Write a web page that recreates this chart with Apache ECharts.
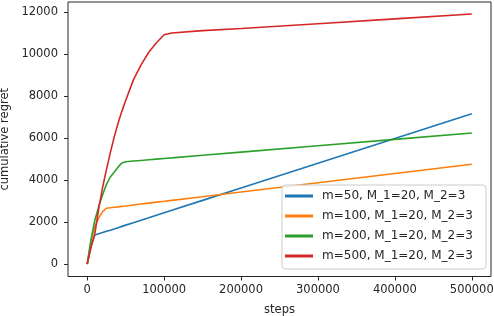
<!DOCTYPE html>
<html>
<head>
<meta charset="utf-8">
<script src="https://cdn.jsdelivr.net/npm/echarts@6/dist/echarts.min.js"></script>
<style>html,body{margin:0;padding:0;background:#fff}#c{width:494px;height:316px}</style>
</head>
<body>
<div id="c"></div>
<script>
const steps = [0, 5000, 10000, 15000, 20000, 25000, 30000, 35000, 40000, 45000, 50000, 60000, 70000, 80000, 90000, 100000, 110000, 150000, 200000, 300000, 400000, 500000];
const regretM50  = [0, 900, 1380, 1440, 1500, 1560, 1615, 1675, 1735, 1795, 1855, 1970, 2090, 2205, 2325, 2445, 2560, 3035, 3625, 4805, 5990, 7170];
const regretM100 = [0, 1100, 1800, 2200, 2500, 2660, 2680, 2705, 2725, 2750, 2770, 2815, 2860, 2905, 2950, 2990, 3035, 3210, 3435, 3875, 4320, 4760];
const regretM200 = [0, 1200, 2100, 2750, 3300, 3800, 4150, 4380, 4620, 4820, 4880, 4910, 4940, 4970, 5000, 5030, 5060, 5185, 5335, 5640, 5945, 6250];
const regretM500 = [0, 800, 1460, 2650, 3660, 4500, 5300, 6050, 6700, 7280, 7800, 8780, 9500, 10100, 10550, 10930, 11020, 11130, 11230, 11460, 11690, 11920];
const seriesNames = ['m=50, M_1=20, M_2=3', 'm=100, M_1=20, M_2=3', 'm=200, M_1=20, M_2=3', 'm=500, M_1=20, M_2=3'];
const xTicks = [0, 100000, 200000, 300000, 400000, 500000];
const yTicks = [0, 2000, 4000, 6000, 8000, 10000, 12000];
const colors = ['#1f77b4', '#ff7f0e', '#2ca02c', '#d62728'];

const allY = [regretM50, regretM100, regretM200, regretM500];
const font = 'DejaVu Sans';
const chart = echarts.init(document.getElementById('c'), null, {renderer: 'canvas'});
chart.setOption({
  animation: false,
  grid: {left: 68, right: 3, top: 2, bottom: 39.5, show: true, borderColor: '#262626', borderWidth: 1, backgroundColor: 'transparent', outerBoundsMode: 'none', containLabel: false},
  xAxis: {
    type: 'value', min: -25000, max: 525000,
    name: 'steps', nameLocation: 'middle', nameGap: 28,
    nameTextStyle: {fontFamily: font, fontSize: 11.5, color: '#262626'},
    axisLine: {show: false, onZero: false},
    axisTick: {show: true, length: 4, customValues: xTicks, lineStyle: {color: '#262626'}},
    axisLabel: {customValues: xTicks, formatter: v => String(v), fontFamily: font, fontSize: 11.5, color: '#262626', margin: 8},
    splitLine: {show: false}
  },
  yAxis: {
    type: 'value', min: -595, max: 12495,
    name: 'cumulative regret', nameLocation: 'middle', nameGap: 54, nameRotate: 90,
    nameTextStyle: {fontFamily: font, fontSize: 11.5, color: '#262626'},
    axisLine: {show: false, onZero: false},
    axisTick: {show: true, length: 4, customValues: yTicks, lineStyle: {color: '#262626'}},
    axisLabel: {customValues: yTicks, formatter: v => String(v), fontFamily: font, fontSize: 11.5, color: '#262626', margin: 10},
    splitLine: {show: false}
  },
  legend: {
    orient: 'vertical', left: 282, top: 185, width: 194,
    padding: [4, 6, 6, 3], itemGap: 6,
    itemWidth: 28, itemHeight: 3, icon: 'rect',
    borderColor: '#cccccc', borderWidth: 1, borderRadius: 3,
    backgroundColor: 'rgba(255,255,255,0.8)',
    textStyle: {fontFamily: font, fontSize: 12, color: '#262626', lineHeight: 14, padding: [0, 0, 0, 4], width: 158},
    data: seriesNames
  },
  series: seriesNames.map((n, i) => ({
    name: n, type: 'line', showSymbol: false, symbol: 'none',
    data: steps.map((s, j) => [s, allY[i][j]]),
    lineStyle: {color: colors[i], width: 1.6},
    itemStyle: {color: colors[i]},
    z: 2 + i
  }))
});
</script>
</body>
</html>
